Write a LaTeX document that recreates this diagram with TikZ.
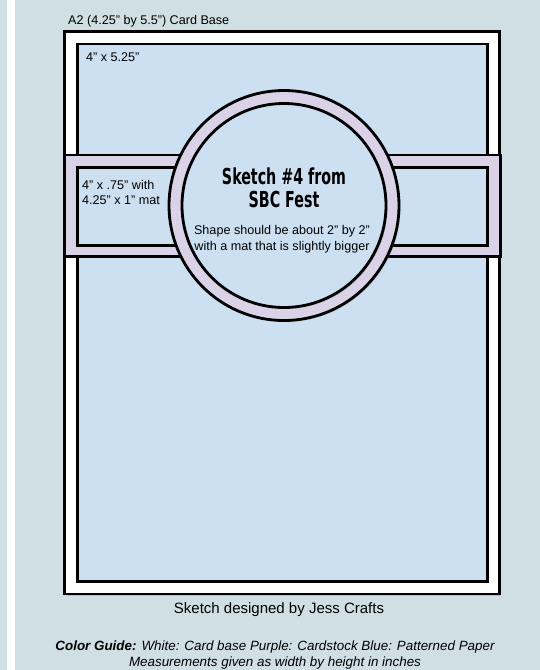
\documentclass[tikz,border=0pt]{standalone}
\usepackage{fontspec}
\setmainfont{Liberation Sans}
\newfontfamily\titlefont[FakeStretch=0.72]{DejaVu Sans Condensed}
\usetikzlibrary{shadows}
\definecolor{bgblue}{HTML}{D0DFE4}
\definecolor{paperblue}{HTML}{CDE0F2}
\definecolor{stockpurple}{HTML}{DAD3E8}

\begin{document}
\begin{tikzpicture}[x=1pt,y=-1pt,
  piece/.style={draw=black, line width=2.8pt,
    drop shadow={shadow xshift=1.5pt, shadow yshift=-1.5pt, opacity=0.3}},
  note/.style={anchor=west, inner sep=0pt, align=left,
    font=\fontsize{12.6}{15}\selectfont}]
 % page and card base
 \fill[bgblue] (0,0) rectangle (540,670);
 \fill[white] (7,0) rectangle (15,670);
 \useasboundingbox (0,0) rectangle (540,670);
 \draw[piece, fill=white] (64.7,31.3) rectangle (499.5,594);
 \draw[piece, fill=paperblue] (77.7,44) rectangle (487.5,581.5);
 % strip with mat
 \draw[piece, fill=stockpurple] (64.7,155) rectangle (500.5,256.5);
 \draw[piece, fill=paperblue] (77.5,167.5) rectangle (487.5,245.5);
 % shape with mat
 \draw[piece, fill=stockpurple] (284,205.5) circle (115);
 \draw[piece, fill=paperblue] (284,205.5) circle (102);
 % labels
 \node[note] (base) at (68,21) {A2 (4.25" by 5.5") Card Base};
 \node[note] (panel) at (86,57) {4" x 5.25"};
 \node[note] (strip) at (82,192) {4" x .75" with\\4.25" x 1" mat};
 \node[align=center, inner sep=0pt,
   font=\titlefont\bfseries\fontsize{22}{23.5}\selectfont] (title) at (284,188)
   {Sketch \#4 from\\SBC Fest};
 \node[align=center, inner sep=0pt, font=\fontsize{12.6}{16}\selectfont] (shape)
   at (282,239) {Shape should be about 2” by 2”\\with a mat that is slightly bigger};
 \node[inner sep=0pt, font=\fontsize{15}{17}\selectfont] (credit) at (279,610)
   {Sketch designed by Jess Crafts};
 \node[align=center, inner sep=0pt, anchor=north,
   font=\itshape\fontsize{13.4}{16}\selectfont] (guide) at (275,641)
   {\textbf{Color Guide:} White: Card base Purple: Cardstock Blue: Patterned Paper\\
    Measurements given as width by height in inches};
\end{tikzpicture}
\end{document}
